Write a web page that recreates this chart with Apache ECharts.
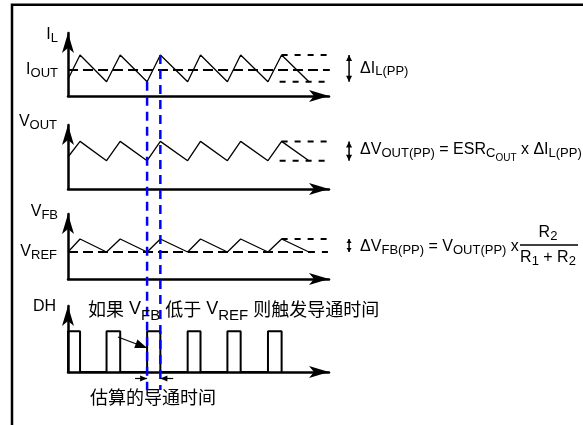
<!DOCTYPE html>
<html>
<head>
<meta charset="utf-8">
<script src="https://cdn.jsdelivr.net/npm/echarts@6/dist/echarts.min.js"></script>
<style>
html, body { margin: 0; padding: 0; background: #fff; }
#main { width: 583px; height: 425px; }
</style>
</head>
<body>
<div id="main"></div>
<script>
// 波形拐点的时间 (单位: 开关周期)
var peakTimes = [0.3, 1.3, 2.3, 3.3, 4.3, 5.32];
var valleyTimes = [0.96, 1.97, 2.98, 3.97, 4.98, 6.0];
// 各波形电平: [起点, 谷, 峰]
var ilLevels = [1.67, 1.43, 4.1];
var voutLevels = [3.2, 2.83, 4.76];
var vfbLevels = [2.7, 2.7, 4.0];
var iOut = 2.6;
var vRef = 2.7;
// DH 导通脉冲
var onStart = [0, 0.96, 1.97, 2.98, 3.97, 4.98];
var onEnd = [0.3, 1.3, 2.3, 3.3, 4.3, 5.32];
var dhHigh = 4.07;

var tMax = 6.5;      // 时间轴长度
var tDash = 6.52;    // I_OUT 虚线终点
var tExt = 6.7;      // 峰/谷虚线延长到
var tDelta = 7.0;    // Δ 箭头位置
var markT = [1.97, 2.3];  // 估算的导通时间 (蓝色虚线)

var FONT = '"Liberation Sans", Arial, sans-serif';
var CJK = '"Noto Sans CJK SC", sans-serif';

var panels = [
    {top: 33, height: 63, yMax: 6.3},   // I_L
    {top: 125, height: 64, yMax: 6.4},  // V_OUT
    {top: 214, height: 65, yMax: 6.5},  // V_FB
    {top: 306, height: 66, yMax: 6.6}   // DH
];

function triWave(lv) {
    var pts = [[0, lv[0]]];
    peakTimes.forEach(function (t, i) {
        pts.push([t, lv[2]]);
        pts.push([valleyTimes[i], lv[1]]);
    });
    return pts;
}

function pulseWave() {
    var pts = [];
    onStart.forEach(function (t, i) {
        pts.push([t, 0], [t, dhHigh], [onEnd[i], dhHigh], [onEnd[i], 0]);
    });
    return pts;
}

function seg(g, pts, style) {
    return {
        type: 'line', xAxisIndex: g, yAxisIndex: g, data: pts,
        symbol: 'none', clip: false, silent: true,
        lineStyle: style
    };
}

var solid = {color: '#000', width: 1.3};
var longDash = {color: '#000', width: 2, type: [10, 5]};
var shortDash = {color: '#000', width: 2, type: [6, 7]};

var axisLine = {
    show: true,
    symbol: ['none', 'arrow'],
    symbolSize: [9, 20],
    lineStyle: {color: '#000', width: 2.5}
};

var grids = [], xAxes = [], yAxes = [];
panels.forEach(function (p, i) {
    grids.push({left: 68, width: 261, top: p.top, height: p.height, outerBoundsMode: 'none'});
    xAxes.push({type: 'value', gridIndex: i, min: 0, max: tMax, axisLine: axisLine,
        axisTick: {show: false}, axisLabel: {show: false}, splitLine: {show: false}});
    yAxes.push({type: 'value', gridIndex: i, min: 0, max: p.yMax, axisLine: axisLine,
        axisTick: {show: false}, axisLabel: {show: false}, splitLine: {show: false}});
});

var lastPeak = peakTimes[peakTimes.length - 1];
var series = [
    // I_L
    seg(0, triWave(ilLevels), solid),
    seg(0, [[0, iOut], [tDash, iOut]], longDash),
    seg(0, [[lastPeak, ilLevels[2]], [tExt, ilLevels[2]]], shortDash),
    seg(0, [[lastPeak - 0.05, ilLevels[1]], [tExt, ilLevels[1]]], shortDash),
    // V_OUT
    seg(1, triWave(voutLevels), solid),
    seg(1, [[lastPeak, voutLevels[2]], [tExt, voutLevels[2]]], shortDash),
    seg(1, [[lastPeak - 0.05, voutLevels[1]], [tExt, voutLevels[1]]], shortDash),
    // V_FB
    seg(2, triWave(vfbLevels), solid),
    seg(2, [[0, vRef], [6.0, vRef]], longDash),
    seg(2, [[6.0, vRef], [tExt, vRef]], shortDash),
    seg(2, [[lastPeak, vfbLevels[2]], [tExt, vfbLevels[2]]], shortDash),
    // DH
    seg(3, pulseWave(), {color: '#000', width: 2})
];

var chartDom = document.getElementById('main');
var myChart = echarts.init(chartDom);
var option = {
    animation: false,
    backgroundColor: '#fff',
    grid: grids,
    xAxis: xAxes,
    yAxis: yAxes,
    series: series
};
myChart.setOption(option);

// 标注: 用坐标系换算像素位置
function px(g, t, v) {
    return myChart.convertToPixel({gridIndex: g}, [t, v]);
}

var rich = {
    m: {fontFamily: FONT, fontSize: 16, color: '#000', lineHeight: 18},
    s: {fontFamily: FONT, fontSize: 13, color: '#000', lineHeight: 18, padding: [7, 0, 0, 0]},
    ss: {fontFamily: FONT, fontSize: 10, color: '#000', lineHeight: 18, padding: [16, 0, 0, 0]},
    c: {fontFamily: CJK, fontSize: 18, color: '#1a1a1a', lineHeight: 20},
    cm: {fontFamily: FONT, fontSize: 18, color: '#1a1a1a', lineHeight: 20},
    cs: {fontFamily: FONT, fontSize: 15, color: '#1a1a1a', lineHeight: 20, padding: [13, 0, 0, 0]}
};

function label(text, x, y, align) {
    return {
        type: 'text', x: x, y: y, z: 20, silent: true,
        style: {text: text, rich: rich, font: '16px ' + FONT,
            align: align || 'left', textAlign: align || 'left',
            verticalAlign: 'middle', textVerticalAlign: 'middle'}
    };
}

function line(p0, p1, color, width, dash, z) {
    return {
        type: 'line', z: z || 10, silent: true,
        shape: {x1: p0[0], y1: p0[1], x2: p1[0], y2: p1[1]},
        style: {stroke: color, lineWidth: width, lineDash: dash || null}
    };
}

function head(tip, from, len, w) {
    var dx = tip[0] - from[0], dy = tip[1] - from[1];
    var d = Math.sqrt(dx * dx + dy * dy);
    var ux = dx / d, uy = dy / d;
    var bx = tip[0] - ux * len, by = tip[1] - uy * len;
    return {
        type: 'polygon', z: 10, silent: true,
        shape: {points: [tip, [bx - uy * w / 2, by + ux * w / 2], [bx + uy * w / 2, by - ux * w / 2]]},
        style: {fill: '#000'}
    };
}

function arrow(from, tip, len, w, width) {
    return [line(from, tip, '#000', width || 1.2), head(tip, from, len, w)];
}

function dblArrow(g, lo, hi, len, w) {
    var a = px(g, tDelta, hi), b = px(g, tDelta, lo);
    return [line(a, b, '#000', 1.5), head(a, b, len, w), head(b, a, len, w)];
}

var els = [];
// 外框
els.push({type: 'polyline', z: 1, silent: true,
    shape: {points: [[12, 425], [12, 4.7], [583, 4.7]]},
    style: {stroke: '#000', lineWidth: 2.5, fill: null}});

// 蓝色虚线
var blueTop = [px(0, markT[0], ilLevels[1]), px(0, markT[1], ilLevels[2])];
markT.forEach(function (t, i) {
    els.push(line(blueTop[i], px(3, t, -1.8), '#0000ff', 2.5, [9, 6], 5));
});

// Δ 箭头
els = els.concat(dblArrow(0, ilLevels[1], ilLevels[2], 6, 6));
els = els.concat(dblArrow(1, voutLevels[1], voutLevels[2], 6, 6));
els = els.concat(dblArrow(2, vfbLevels[1], vfbLevels[2], 4, 5));

// 指向导通脉冲的箭头
els = els.concat(arrow(px(3, 1.245, 3.5), px(3, markT[0], 2.4), 12, 9));
// 估算的导通时间箭头
els = els.concat(arrow(px(3, 1.67, -0.65), px(3, markT[0], -0.65), 7, 6));
els = els.concat(arrow(px(3, 2.62, -0.65), px(3, markT[1], -0.65), 7, 6));

// 轴名称
els.push(label('{m|I}{s|L}', 58, 35, 'right'));
els.push(label('{m|I}{s|OUT}', 58, px(0, 0, iOut)[1], 'right'));
els.push(label('{m|V}{s|OUT}', 57, 122, 'right'));
els.push(label('{m|V}{s|FB}', 58, 212, 'right'));
els.push(label('{m|V}{s|REF}', 57, px(2, 0, vRef)[1], 'right'));
els.push(label('{m|DH}', 56, 307, 'right'));

// 公式
var fx = px(0, tDelta, 0)[0] + 11;
els.push(label('{m|ΔI}{s|L(PP)}', fx, (px(0, 0, ilLevels[1])[1] + px(0, 0, ilLevels[2])[1]) / 2));
els.push(label('{m|ΔV}{s|OUT(PP)}{m| = ESR}{s|C}{ss|OUT}{m| x ΔI}{s|L(PP)}', fx,
    (px(1, 0, voutLevels[1])[1] + px(1, 0, voutLevels[2])[1]) / 2 - 1));
var vfbMid = (px(2, 0, vfbLevels[1])[1] + px(2, 0, vfbLevels[2])[1]) / 2 + 1;
els.push(label('{m|ΔV}{s|FB(PP)}{m| = V}{s|OUT(PP)}{m| x}', fx, vfbMid));
els.push(label('{m|R}{s|2}', 548, vfbMid - 14, 'center'));
els.push(line([520, vfbMid - 1.5], [578, vfbMid - 1.5], '#000', 1.5));
els.push(label('{m|R}{s|1}{m| + R}{s|2}', 548, vfbMid + 11, 'center'));

// 中文说明
els.push(label('{c|如果}{cm| V}{cs|FB}{cm| }{c|低于}{cm| V}{cs|REF}{cm| }{c|则触发导通时间}', 88, 309.5));
els.push(label('{c|估算的导通时间}', 90, 397));

myChart.setOption({graphic: {elements: els}});
</script>
</body>
</html>
